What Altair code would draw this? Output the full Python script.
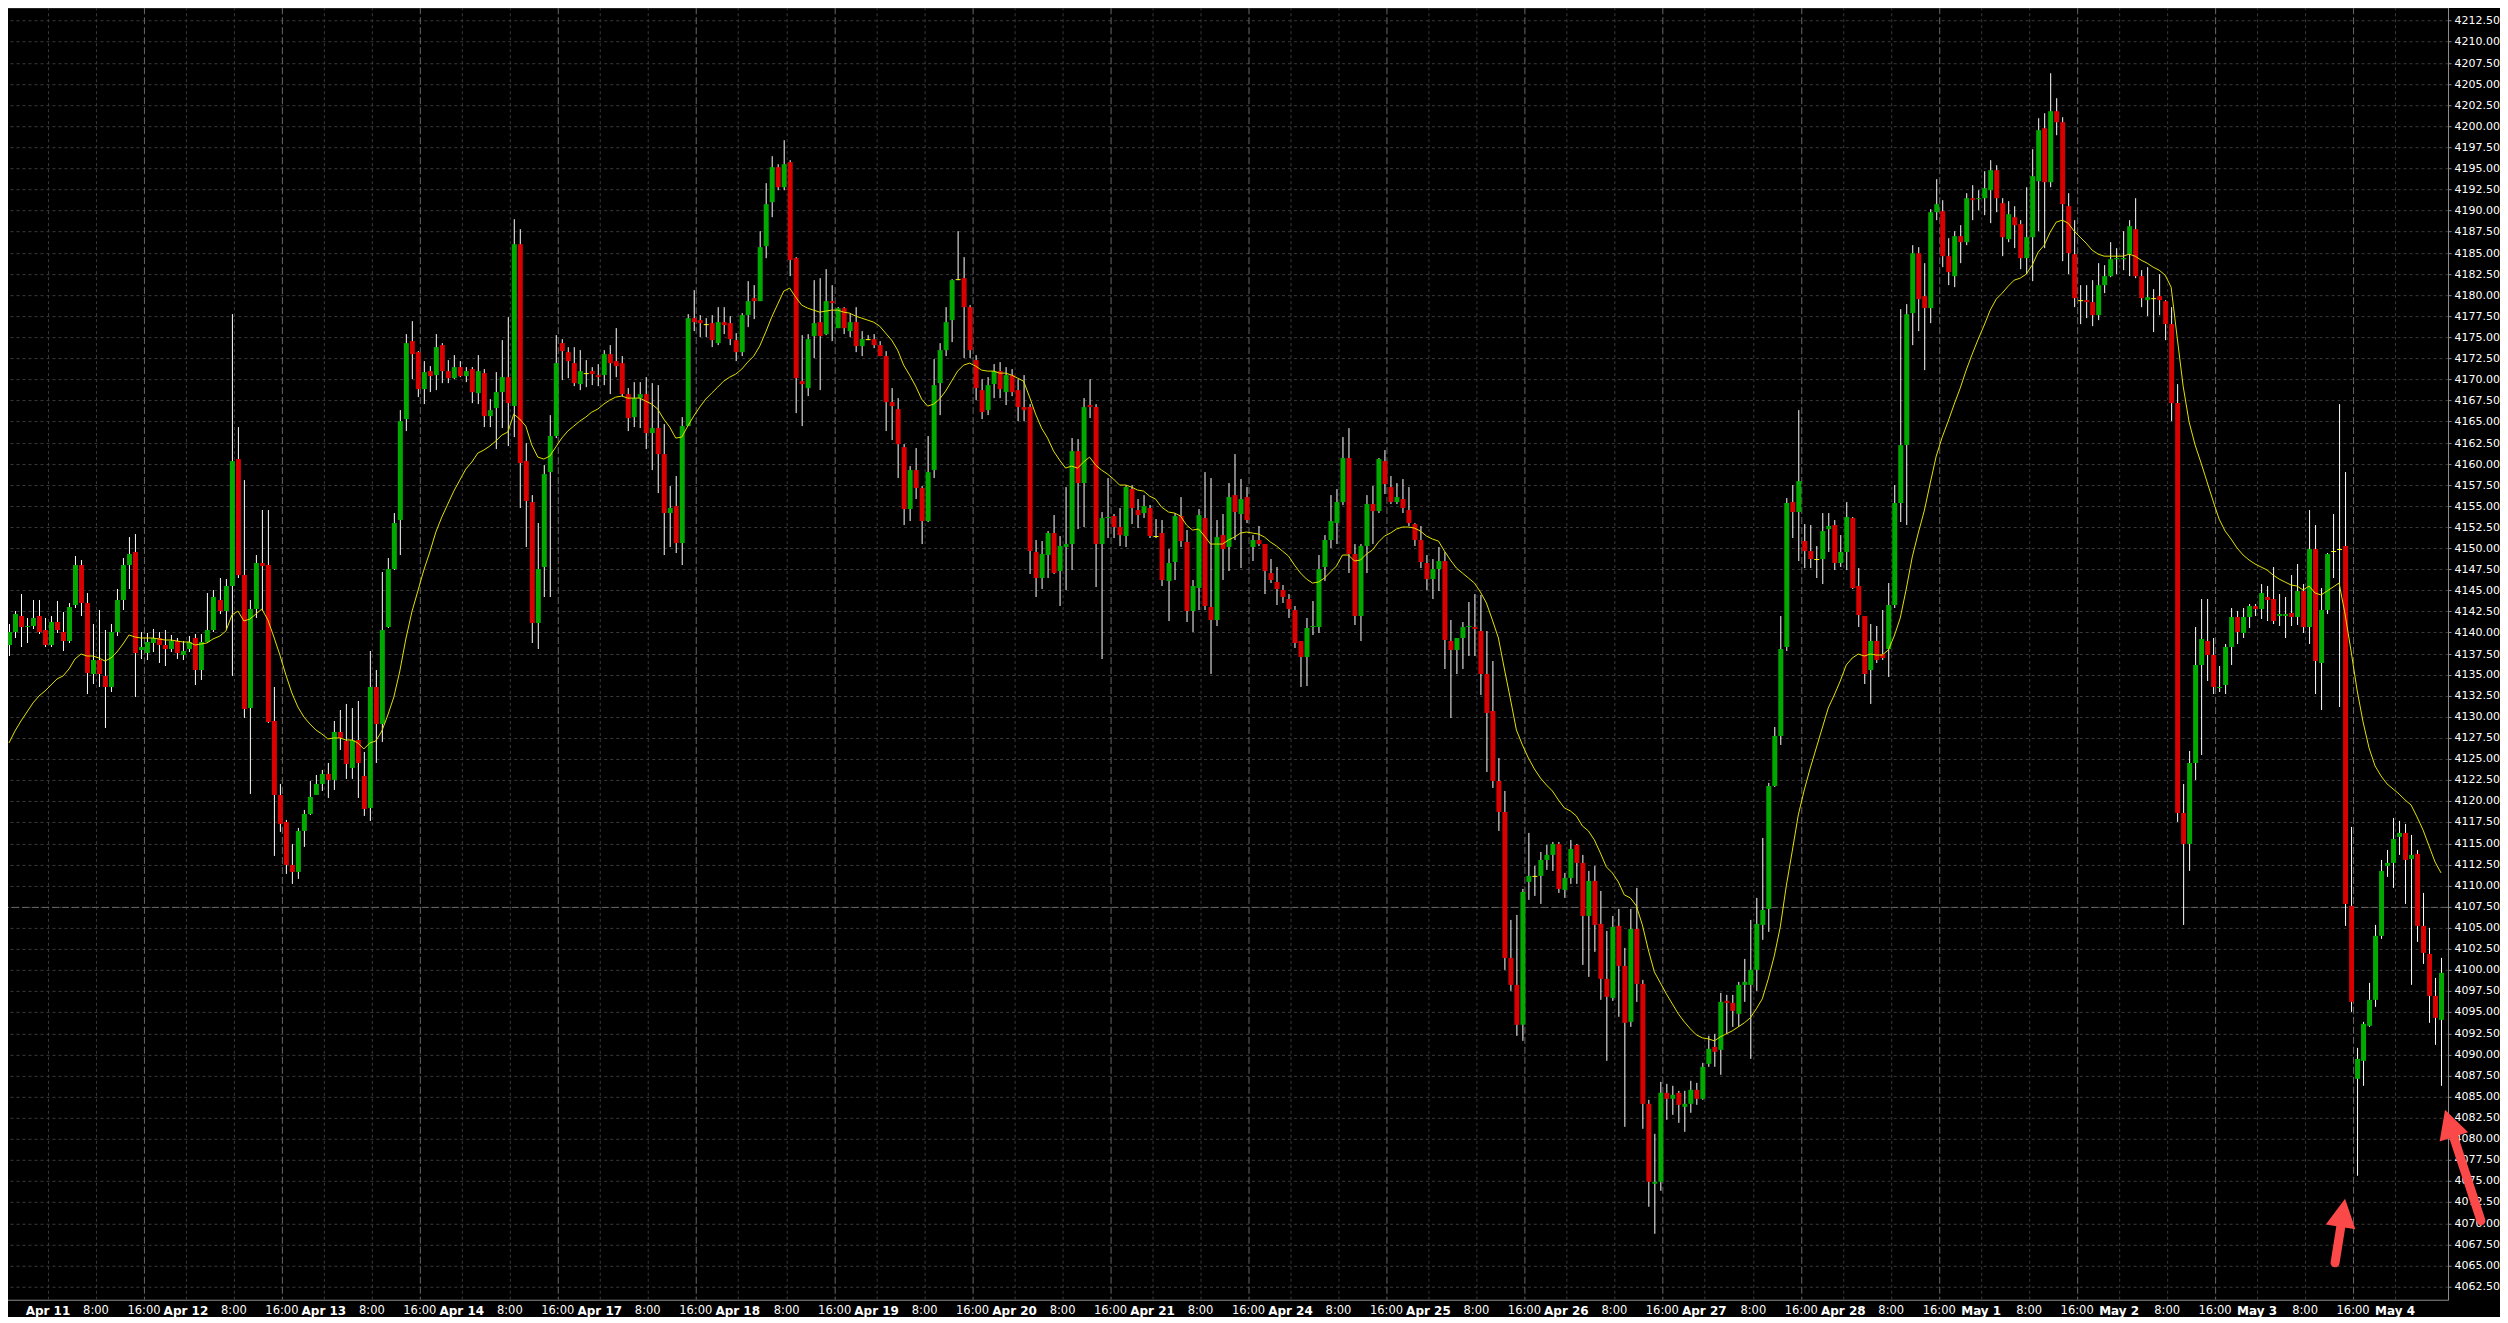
import math
import altair as alt
import pandas as pd

# ---------------- data (hourly candles) ----------------
opens = [
    4138.5, 4140.1, 4141.9, 4140.7, 4140.8, 4141.9, 4140.3, 4138.5, 4141.3, 4140.1,
    4139.0, 4143.3, 4148.0, 4143.5, 4135.1, 4136.8, 4134.8, 4133.6, 4140.1, 4143.9,
    4148.0, 4149.5, 4137.9, 4137.6, 4138.8, 4139.4, 4138.5, 4138.1, 4139.0, 4137.3,
    4138.1, 4139.4, 4135.6, 4138.9, 4140.3, 4143.9, 4142.6, 4145.5, 4160.6, 4146.8,
    4131.1, 4142.8, 4148.2, 4148.0, 4129.5, 4120.8, 4117.5, 4112.5, 4111.6, 4116.5,
    4118.5, 4120.8, 4122.1, 4123.3, 4122.5, 4128.2, 4127.1, 4124.0, 4127.3, 4123.0,
    4119.2, 4133.5, 4129.2, 4140.6, 4147.5, 4153.3, 4165.3, 4174.5, 4173.2, 4168.8,
    4171.0, 4170.5, 4174.0, 4171.0, 4170.1, 4171.5, 4170.4, 4171.2, 4168.4, 4170.7,
    4165.6, 4166.6, 4168.5, 4170.2, 4166.8, 4186.0, 4160.3, 4155.4, 4141.1, 4147.8,
    4159.0, 4163.3, 4174.3, 4173.2, 4171.9, 4169.4, 4170.7, 4171.0, 4170.5, 4170.5,
    4173.0, 4172.1, 4171.9, 4168.3, 4165.5, 4167.8, 4168.3, 4163.6, 4164.2, 4161.1,
    4154.1, 4155.0, 4150.6, 4164.5, 4177.3, 4177.0, 4176.5, 4176.6, 4174.3, 4176.8,
    4176.6, 4174.6, 4173.2, 4177.6, 4179.6, 4179.3, 4185.8, 4191.0, 4195.1, 4192.8,
    4195.7, 4184.3, 4169.8, 4169.0, 4175.1, 4176.8, 4175.3, 4179.3, 4176.1, 4178.4,
    4175.7, 4176.8, 4173.9, 4174.7, 4174.8, 4174.1, 4172.8, 4167.3, 4166.5, 4162.0,
    4154.6, 4159.3, 4157.1, 4153.2, 4159.3, 4169.6, 4173.5, 4177.0, 4181.9, 4182.0,
    4178.6, 4172.3, 4168.7, 4166.3, 4169.4, 4171.0, 4168.5, 4170.5, 4168.7, 4166.7,
    4166.7, 4149.5, 4146.5, 4149.2, 4151.8, 4147.3, 4150.1, 4150.5, 4161.5, 4157.7,
    4167.0, 4166.7, 4150.5, 4153.6, 4153.8, 4152.5, 4151.4, 4157.0, 4154.5, 4154.1,
    4154.8, 4151.4, 4151.8, 4146.1, 4148.3, 4153.8, 4150.7, 4142.6, 4145.3, 4153.6,
    4143.0, 4141.5, 4151.5, 4150.1, 4156.3, 4154.0, 4156.1, 4150.1, 4150.9, 4150.5,
    4147.1, 4146.0, 4145.0, 4144.0, 4142.7, 4139.0, 4137.1, 4140.6, 4140.6, 4147.8,
    4151.0, 4153.0, 4155.5, 4160.7, 4149.3, 4142.0, 4150.2, 4155.2, 4154.4, 4160.3,
    4157.2, 4155.5, 4155.8, 4154.5, 4152.8, 4150.9, 4148.2, 4146.3, 4147.5, 4148.5,
    4139.0, 4137.9, 4139.3, 4140.6, 4140.6, 4140.2, 4135.1, 4130.7, 4122.4, 4118.8,
    4101.5, 4098.3, 4093.5, 4110.4, 4111.2, 4111.2, 4113.1, 4113.6, 4115.0, 4109.5,
    4110.9, 4114.8, 4112.7, 4106.4, 4110.6, 4105.5, 4099.0, 4096.7, 4105.3, 4100.5,
    4093.9, 4104.9, 4098.4, 4084.2, 4074.7, 4074.9, 4085.5, 4084.8, 4085.5, 4083.8,
    4084.2, 4085.8, 4084.8, 4088.9, 4090.9, 4090.6, 4096.4, 4096.1, 4094.8, 4098.3,
    4098.3, 4100.0, 4105.4, 4107.2, 4121.8, 4127.7, 4138.3, 4155.4, 4154.3, 4150.8,
    4149.7, 4148.7, 4148.7, 4152.3, 4152.7, 4148.2, 4149.5, 4153.6, 4145.5, 4141.9,
    4135.6, 4139.0, 4137.4, 4138.1, 4143.2, 4155.3, 4162.2, 4177.8, 4185.0, 4179.8,
    4178.4, 4189.8, 4189.9, 4184.6, 4182.2, 4187.0, 4186.2, 4191.5, 4191.4, 4191.5,
    4192.4, 4194.8, 4190.9, 4186.6, 4189.2, 4188.4, 4184.3, 4186.8, 4193.5, 4199.8,
    4193.3, 4201.8, 4200.5, 4190.5, 4184.8, 4179.4, 4179.4, 4179.1, 4177.6, 4181.1,
    4182.2, 4184.2, 4184.2, 4184.8, 4187.8, 4182.2, 4179.4, 4179.6, 4179.8, 4179.2,
    4176.5, 4167.2, 4118.6, 4114.9, 4124.5, 4136.2, 4139.0, 4137.3, 4133.4, 4133.8,
    4138.3, 4141.8, 4139.9, 4141.8, 4143.1, 4142.8, 4144.2, 4144.0, 4141.9, 4141.9,
    4142.3, 4141.8, 4144.9, 4140.6, 4149.9, 4136.4, 4142.7, 4149.6, 4149.9, 4150.2,
    4107.6, 4087.1, 4089.3, 4093.4, 4096.5, 4104.0, 4112.3, 4112.7, 4115.8, 4116.3,
    4113.2, 4113.8, 4105.2, 4101.9, 4096.9, 4094.1,
]
highs = [
    4141.0, 4142.6, 4144.6, 4141.7, 4143.9, 4143.9, 4141.7, 4141.9, 4143.7, 4142.4,
    4143.5, 4149.1, 4148.6, 4144.7, 4141.0, 4142.7, 4140.3, 4141.0, 4145.2, 4148.8,
    4151.3, 4151.7, 4140.1, 4139.9, 4140.4, 4140.1, 4140.3, 4139.7, 4139.4, 4139.0,
    4139.6, 4139.8, 4139.8, 4144.7, 4145.0, 4146.4, 4146.3, 4177.7, 4164.3, 4158.1,
    4143.9, 4149.2, 4154.5, 4154.5, 4133.5, 4122.1, 4117.8, 4115.0, 4116.8, 4119.0,
    4122.4, 4123.1, 4123.7, 4124.6, 4129.5, 4130.8, 4131.5, 4131.1, 4131.9, 4125.8,
    4137.8, 4135.6, 4147.2, 4148.8, 4154.1, 4166.3, 4175.3, 4176.9, 4173.3, 4172.1,
    4171.6, 4175.3, 4174.3, 4172.3, 4172.9, 4172.2, 4171.5, 4171.5, 4172.9, 4171.2,
    4167.7, 4170.8, 4174.6, 4177.4, 4189.0, 4187.8, 4162.5, 4156.3, 4153.0, 4159.8,
    4165.8, 4175.2, 4174.8, 4173.8, 4173.8, 4173.4, 4172.3, 4171.5, 4171.8, 4173.5,
    4174.0, 4176.1, 4172.8, 4168.9, 4169.7, 4169.7, 4170.2, 4169.5, 4169.3, 4164.7,
    4157.3, 4158.5, 4165.5, 4177.7, 4180.6, 4177.6, 4177.3, 4177.6, 4178.5, 4178.5,
    4177.5, 4175.5, 4177.8, 4181.6, 4181.2, 4187.6, 4193.2, 4196.4, 4195.5, 4198.3,
    4196.0, 4184.5, 4175.2, 4175.3, 4181.8, 4182.0, 4183.0, 4181.2, 4178.6, 4178.6,
    4177.8, 4178.6, 4175.7, 4175.2, 4175.3, 4174.5, 4173.3, 4168.9, 4167.8, 4162.3,
    4159.7, 4161.8, 4157.4, 4163.3, 4172.4, 4174.3, 4178.6, 4181.9, 4187.6, 4184.5,
    4178.8, 4172.9, 4170.0, 4170.2, 4171.8, 4172.0, 4171.5, 4171.2, 4170.0, 4170.5,
    4167.1, 4151.0, 4150.8, 4152.0, 4153.9, 4151.4, 4157.2, 4163.0, 4162.9, 4167.8,
    4170.0, 4167.1, 4154.3, 4158.3, 4154.0, 4154.8, 4157.5, 4157.5, 4155.8, 4156.3,
    4155.1, 4153.5, 4153.3, 4149.9, 4154.2, 4156.1, 4152.1, 4146.2, 4154.6, 4159.0,
    4158.3, 4153.3, 4154.0, 4157.7, 4161.1, 4158.2, 4157.2, 4151.5, 4152.6, 4150.5,
    4148.7, 4147.8, 4145.6, 4144.6, 4143.1, 4139.0, 4141.7, 4143.7, 4149.2, 4151.6,
    4156.3, 4157.0, 4163.2, 4164.2, 4150.5, 4150.5, 4156.3, 4157.3, 4160.7, 4161.6,
    4158.5, 4157.7, 4158.2, 4157.2, 4153.0, 4152.6, 4149.2, 4148.7, 4150.1, 4149.5,
    4141.5, 4139.4, 4141.3, 4143.6, 4144.6, 4144.4, 4140.2, 4136.6, 4125.1, 4121.2,
    4106.0, 4106.5, 4109.6, 4116.3, 4112.3, 4114.0, 4114.8, 4115.2, 4115.2, 4111.5,
    4115.4, 4115.0, 4113.6, 4111.7, 4112.3, 4109.4, 4104.7, 4106.4, 4107.2, 4102.6,
    4107.2, 4109.8, 4098.8, 4084.6, 4080.6, 4086.8, 4086.5, 4086.3, 4085.7, 4085.7,
    4086.9, 4086.7, 4089.0, 4092.2, 4092.4, 4097.3, 4097.1, 4097.1, 4098.6, 4101.3,
    4106.0, 4108.5, 4115.7, 4122.2, 4128.8, 4141.9, 4155.9, 4157.5, 4166.4, 4152.9,
    4152.7, 4150.2, 4154.2, 4154.2, 4153.3, 4151.6, 4155.4, 4153.7, 4147.6, 4142.0,
    4141.0, 4140.8, 4142.7, 4145.9, 4157.5, 4178.3, 4178.9, 4185.9, 4185.7, 4183.8,
    4190.1, 4193.7, 4191.2, 4186.7, 4187.6, 4188.2, 4192.0, 4193.0, 4192.4, 4194.7,
    4195.9, 4195.4, 4191.4, 4191.1, 4190.5, 4188.8, 4192.8, 4197.2, 4200.9, 4201.5,
    4206.3, 4203.3, 4201.1, 4192.0, 4188.8, 4181.1, 4181.1, 4181.7, 4183.7, 4183.5,
    4186.3, 4185.5, 4187.6, 4188.9, 4191.5, 4182.9, 4183.3, 4180.7, 4182.4, 4179.4,
    4178.5, 4169.4, 4122.1, 4126.0, 4140.7, 4144.0, 4144.0, 4139.4, 4136.0, 4138.6,
    4142.9, 4142.5, 4142.9, 4143.4, 4143.4, 4145.7, 4145.5, 4147.7, 4144.6, 4144.2,
    4146.8, 4148.1, 4145.7, 4154.5, 4152.7, 4145.3, 4149.4, 4154.0, 4167.1, 4159.0,
    4117.0, 4090.8, 4093.9, 4098.5, 4105.4, 4113.0, 4114.3, 4118.0, 4117.7, 4117.3,
    4116.0, 4114.3, 4109.2, 4105.0, 4099.1, 4101.4,
]
lows = [
    4137.2, 4139.4, 4138.3, 4138.8, 4140.4, 4139.8, 4138.3, 4138.3, 4139.9, 4137.8,
    4138.8, 4142.9, 4141.9, 4132.7, 4133.9, 4133.5, 4128.7, 4133.0, 4139.6, 4142.7,
    4145.2, 4132.4, 4136.9, 4136.7, 4137.7, 4136.4, 4136.0, 4137.7, 4136.9, 4136.7,
    4137.7, 4133.8, 4134.4, 4138.8, 4140.0, 4142.2, 4140.4, 4134.9, 4146.4, 4129.9,
    4120.9, 4141.7, 4142.5, 4129.3, 4113.5, 4116.4, 4111.4, 4110.2, 4110.8, 4114.6,
    4118.4, 4120.7, 4121.2, 4120.4, 4121.4, 4126.1, 4122.7, 4122.7, 4120.4, 4118.3,
    4117.7, 4124.5, 4127.0, 4140.5, 4147.4, 4149.2, 4163.9, 4170.0, 4167.9, 4167.1,
    4168.5, 4168.7, 4169.5, 4169.5, 4170.0, 4170.3, 4169.7, 4167.2, 4167.1, 4164.3,
    4164.3, 4161.7, 4164.2, 4162.1, 4163.2, 4154.7, 4150.1, 4138.7, 4138.0, 4144.2,
    4144.2, 4163.0, 4169.9, 4170.1, 4169.2, 4168.7, 4169.1, 4169.3, 4169.2, 4169.3,
    4168.3, 4170.2, 4168.0, 4163.9, 4164.3, 4164.2, 4161.7, 4159.2, 4156.5, 4149.2,
    4150.1, 4149.4, 4148.0, 4164.4, 4175.7, 4175.0, 4175.0, 4173.8, 4174.0, 4175.3,
    4174.0, 4172.1, 4172.7, 4176.2, 4177.1, 4179.2, 4184.4, 4189.2, 4192.4, 4192.4,
    4182.2, 4166.0, 4164.5, 4168.0, 4172.5, 4168.7, 4175.2, 4174.5, 4176.1, 4175.4,
    4175.0, 4173.2, 4172.7, 4174.6, 4173.7, 4172.7, 4163.9, 4162.8, 4158.3, 4152.7,
    4153.2, 4155.8, 4150.5, 4153.1, 4158.3, 4165.7, 4172.7, 4174.4, 4181.8, 4172.5,
    4172.5, 4167.5, 4165.3, 4165.7, 4167.8, 4167.8, 4167.0, 4168.0, 4165.0, 4165.0,
    4146.9, 4144.2, 4145.1, 4146.5, 4146.9, 4143.1, 4145.0, 4147.4, 4152.2, 4152.5,
    4165.4, 4145.4, 4136.9, 4151.2, 4151.2, 4150.2, 4150.1, 4152.8, 4152.4, 4153.6,
    4151.2, 4151.2, 4145.5, 4141.4, 4146.2, 4150.1, 4141.3, 4140.0, 4142.7, 4142.7,
    4135.1, 4140.8, 4146.2, 4147.3, 4151.0, 4147.6, 4153.0, 4148.5, 4150.2, 4144.6,
    4145.9, 4143.3, 4143.5, 4141.7, 4138.2, 4133.6, 4133.7, 4139.7, 4139.9, 4146.1,
    4150.0, 4150.5, 4155.1, 4147.1, 4140.9, 4139.0, 4147.1, 4150.5, 4154.2, 4156.4,
    4155.2, 4155.2, 4154.2, 4152.6, 4150.2, 4147.6, 4145.0, 4144.0, 4144.9, 4135.7,
    4129.9, 4135.1, 4135.7, 4137.2, 4137.2, 4132.6, 4123.5, 4121.6, 4116.5, 4100.0,
    4097.5, 4092.2, 4091.6, 4108.3, 4108.8, 4107.9, 4111.9, 4111.7, 4109.1, 4108.5,
    4110.2, 4110.2, 4100.6, 4099.2, 4102.2, 4096.5, 4089.3, 4096.4, 4094.5, 4081.4,
    4093.3, 4096.2, 4081.2, 4072.0, 4068.8, 4073.8, 4082.3, 4082.9, 4081.9, 4080.8,
    4083.1, 4084.0, 4084.6, 4088.6, 4088.6, 4087.6, 4092.4, 4093.3, 4093.3, 4096.2,
    4089.5, 4097.5, 4103.6, 4104.5, 4121.7, 4126.7, 4137.8, 4151.2, 4148.5, 4147.6,
    4147.6, 4146.5, 4145.7, 4149.5, 4147.4, 4147.8, 4147.4, 4145.2, 4140.6, 4133.9,
    4131.5, 4136.4, 4136.7, 4134.7, 4142.9, 4153.1, 4152.7, 4174.0, 4175.7, 4171.1,
    4176.6, 4188.8, 4183.3, 4181.2, 4180.9, 4183.7, 4185.9, 4188.9, 4190.0, 4189.4,
    4188.5, 4189.8, 4184.6, 4186.2, 4185.5, 4183.0, 4182.4, 4181.6, 4187.6, 4185.5,
    4192.8, 4198.9, 4184.0, 4182.4, 4178.5, 4176.5, 4177.2, 4176.3, 4177.0, 4180.2,
    4182.1, 4182.4, 4182.9, 4182.2, 4182.0, 4178.5, 4177.5, 4175.6, 4177.6, 4174.6,
    4165.1, 4117.6, 4105.4, 4111.7, 4122.5, 4125.5, 4134.2, 4132.7, 4132.9, 4132.7,
    4136.2, 4138.6, 4139.4, 4140.5, 4141.9, 4141.6, 4141.4, 4141.0, 4140.8, 4139.3,
    4140.8, 4140.9, 4139.9, 4138.6, 4132.7, 4130.8, 4142.2, 4146.4, 4131.2, 4105.2,
    4095.0, 4075.6, 4086.3, 4093.3, 4095.6, 4103.7, 4111.1, 4109.7, 4113.6, 4107.9,
    4098.2, 4103.4, 4100.8, 4093.7, 4091.1, 4086.3,
]
closes = [
    4140.1, 4142.2, 4140.6, 4140.8, 4141.7, 4140.1, 4138.5, 4141.3, 4140.3, 4139.0,
    4143.0, 4148.0, 4143.5, 4135.2, 4136.8, 4135.1, 4133.6, 4140.1, 4143.9, 4148.0,
    4149.3, 4137.6, 4138.3, 4138.9, 4139.3, 4138.5, 4138.1, 4139.0, 4137.6, 4137.8,
    4138.9, 4135.6, 4138.9, 4140.3, 4144.2, 4142.6, 4145.5, 4160.3, 4146.8, 4130.9,
    4142.8, 4148.2, 4148.0, 4129.4, 4120.8, 4117.3, 4112.5, 4111.6, 4116.5, 4118.5,
    4120.5, 4122.1, 4123.3, 4122.5, 4128.2, 4127.5, 4124.4, 4127.3, 4124.6, 4119.1,
    4133.5, 4129.2, 4140.3, 4147.5, 4153.0, 4165.0, 4174.3, 4173.0, 4168.8, 4170.8,
    4170.4, 4173.8, 4171.0, 4170.1, 4171.4, 4170.4, 4171.0, 4168.5, 4171.0, 4165.6,
    4166.3, 4168.5, 4170.2, 4167.2, 4186.0, 4160.1, 4155.6, 4141.1, 4147.5, 4158.8,
    4163.3, 4171.9, 4173.3, 4172.1, 4169.6, 4171.0, 4170.7, 4170.6, 4170.2, 4173.0,
    4171.9, 4171.6, 4168.3, 4165.4, 4167.8, 4168.3, 4163.6, 4164.2, 4161.1, 4154.1,
    4154.7, 4150.6, 4164.5, 4177.3, 4176.8, 4176.6, 4176.5, 4174.6, 4176.8, 4176.4,
    4174.8, 4173.2, 4177.6, 4179.3, 4179.3, 4185.6, 4190.8, 4195.1, 4192.8, 4195.5,
    4184.1, 4170.1, 4169.4, 4174.8, 4176.6, 4175.1, 4179.2, 4179.0, 4178.4, 4176.1,
    4176.8, 4173.9, 4174.8, 4174.7, 4174.1, 4172.8, 4167.3, 4166.8, 4162.3, 4154.6,
    4159.3, 4157.1, 4153.2, 4159.0, 4169.3, 4173.5, 4176.8, 4181.8, 4181.9, 4178.6,
    4173.5, 4169.0, 4166.1, 4169.3, 4171.0, 4168.8, 4170.5, 4168.5, 4166.7, 4166.5,
    4149.6, 4146.5, 4149.3, 4151.8, 4147.1, 4150.2, 4150.5, 4161.5, 4157.7, 4166.7,
    4166.7, 4150.5, 4153.6, 4153.7, 4152.5, 4151.6, 4157.2, 4154.8, 4153.9, 4155.0,
    4151.4, 4151.4, 4146.2, 4148.2, 4153.8, 4150.8, 4142.6, 4145.5, 4153.9, 4143.1,
    4141.5, 4151.3, 4149.9, 4156.1, 4154.3, 4155.8, 4153.3, 4150.9, 4150.5, 4147.3,
    4146.2, 4145.1, 4144.2, 4142.8, 4138.8, 4137.1, 4140.5, 4140.8, 4147.5, 4150.9,
    4153.2, 4155.4, 4160.7, 4149.3, 4142.0, 4150.2, 4155.2, 4154.4, 4160.5, 4157.6,
    4155.5, 4156.1, 4154.8, 4153.0, 4151.0, 4148.3, 4146.3, 4147.5, 4148.5, 4139.1,
    4137.9, 4139.3, 4140.6, 4140.8, 4140.4, 4135.1, 4130.5, 4122.4, 4118.8, 4101.5,
    4098.3, 4093.5, 4109.3, 4111.2, 4111.2, 4113.0, 4113.6, 4115.0, 4109.6, 4110.9,
    4114.4, 4112.7, 4106.4, 4110.6, 4105.4, 4099.0, 4096.8, 4105.1, 4100.5, 4093.7,
    4104.9, 4098.4, 4084.2, 4074.9, 4074.9, 4085.5, 4084.8, 4085.2, 4084.0, 4084.2,
    4085.8, 4084.8, 4088.6, 4090.7, 4090.3, 4096.2, 4096.2, 4095.2, 4098.3, 4098.6,
    4100.0, 4105.5, 4107.1, 4121.8, 4127.7, 4138.1, 4155.3, 4154.3, 4158.0, 4149.7,
    4148.7, 4148.7, 4152.0, 4152.6, 4148.2, 4149.5, 4153.7, 4145.3, 4142.1, 4135.1,
    4139.0, 4136.8, 4137.0, 4143.2, 4155.3, 4162.2, 4177.7, 4185.0, 4179.5, 4178.4,
    4189.8, 4190.8, 4184.6, 4182.7, 4187.0, 4186.2, 4191.5, 4191.3, 4191.5, 4192.6,
    4194.8, 4191.4, 4186.8, 4189.6, 4188.3, 4184.3, 4186.8, 4194.1, 4199.5, 4193.3,
    4201.8, 4200.4, 4190.7, 4184.9, 4179.6, 4179.4, 4179.1, 4177.6, 4181.1, 4182.2,
    4184.2, 4184.3, 4184.4, 4188.1, 4182.2, 4179.6, 4179.7, 4179.6, 4179.4, 4176.5,
    4167.2, 4118.6, 4114.9, 4124.5, 4136.2, 4139.2, 4137.3, 4133.5, 4133.6, 4138.3,
    4141.8, 4140.0, 4141.8, 4143.1, 4142.8, 4144.7, 4143.8, 4141.4, 4142.2, 4142.2,
    4141.8, 4144.9, 4140.6, 4149.9, 4136.6, 4142.7, 4149.3, 4149.6, 4149.9, 4107.8,
    4096.3, 4089.5, 4093.6, 4096.5, 4104.0, 4111.8, 4112.7, 4115.6, 4116.2, 4113.0,
    4113.7, 4105.2, 4102.1, 4096.9, 4094.3, 4099.7,
]

ema_seed = 4126.9          # value of the yellow average at the first visible bar
ema_period = 20

day_labels = ["Apr 11", "Apr 12", "Apr 13", "Apr 14", "Apr 17", "Apr 18", "Apr 19",
              "Apr 20", "Apr 21", "Apr 24", "Apr 25", "Apr 26", "Apr 27", "Apr 28",
              "May 1", "May 2", "May 3", "May 4"]
hour_labels = ["8:00", "16:00"]
price_ticks = [round(4062.5 + 2.5 * k, 2) for k in range(61)]
marked_level = 4107.5

arrow_tail_bar = [387.3, 411.7]
arrow_tail_price = [4065.3, 4070.3]
arrow_tip_bar = [389.0, 405.7]
arrow_tip_price = [4072.9, 4083.4]

# ---------------- layout / style ----------------
W, H = 2448, 1293
X_DOMAIN = [-0.547, 405.36]
Y_DOMAIN = [4060.95, 4214.075]
FONT = "DejaVu Sans"
GREEN, RED, DOJI = "#00a800", "#d80000", "#ffff00"
MA_COLOR, WICK = "#e2e200", "#ffffff"
GRID, SESSION, FRAME = "#3a3a3a", "#686868", "#8c8c8c"
ARROW = "#fb4848"

alpha = 2.0 / (ema_period + 1)
ema = [ema_seed]
for c in closes[1:]:
    ema.append(ema[-1] + alpha * (c - ema[-1]))

n = len(closes)
df = pd.DataFrame({"i": list(range(n)), "open": opens, "high": highs, "low": lows,
                   "close": closes, "ema": ema})
df["dir"] = ["up" if c > o else ("down" if c < o else "flat") for o, c in zip(opens, closes)]

# time ticks: 23 hourly bars per session day, midnight bar position of the first day
midnight0, per_day = 6.4, 23
tick_rows = [{"pos": midnight0 - 7, "label": "", "kind": "session"}]
for d, lab in enumerate(day_labels):
    m = midnight0 + per_day * d
    tick_rows.append({"pos": m, "label": lab, "kind": "day"})
    if d < len(day_labels) - 1:
        tick_rows.append({"pos": m + 8, "label": hour_labels[0], "kind": "hour"})
        tick_rows.append({"pos": m + 16, "label": hour_labels[1], "kind": "session"})
ticks = pd.DataFrame(tick_rows)

px_bar = W / (X_DOMAIN[1] - X_DOMAIN[0])
px_pt = H / (Y_DOMAIN[1] - Y_DOMAIN[0])
arrow_rows = []
for tb, tp, hb, hp in zip(arrow_tail_bar, arrow_tail_price, arrow_tip_bar, arrow_tip_price):
    dx = (hb - tb) * px_bar
    dy = -(hp - tp) * px_pt
    length = math.hypot(dx, dy)
    back = 20.0 / length
    arrow_rows.append({"tb": tb, "tp": tp, "hb": hb, "hp": hp,
                       "nb": hb - (hb - tb) * back, "np": hp - (hp - tp) * back,
                       "angle": math.degrees(math.atan2(dx, -dy)) % 360})
arrows = pd.DataFrame(arrow_rows)

xs = alt.Scale(domain=X_DOMAIN, nice=False, zero=False, round=True)
ys = alt.Scale(domain=Y_DOMAIN, nice=False, zero=False, round=True)
y_axis = alt.Axis(orient="right", values=price_ticks, format=".2f", title=None,
                  labelFont=FONT, labelFontSize=11, labelColor="#ffffff",
                  labelPadding=3, tickSize=3, tickColor=FRAME, domainColor=FRAME,
                  grid=True, gridColor=GRID, gridDash=[3, 3], labelOverlap=False)


def X(field):
    return alt.X(field, scale=xs, axis=None)


def Y(field):
    return alt.Y(field, scale=ys, axis=y_axis)


base = alt.Chart(df)

grid_minor = alt.Chart(ticks[ticks["kind"] != "session"]).mark_rule(
    color=GRID, strokeWidth=1, strokeDash=[3, 3], xOffset=0.5).encode(x=X("pos:Q"))
grid_session = alt.Chart(ticks[ticks["kind"] == "session"]).mark_rule(
    color=SESSION, strokeWidth=1, strokeDash=[7, 3], xOffset=0.5).encode(x=X("pos:Q"))
level = alt.Chart(pd.DataFrame({"p": [marked_level]})).mark_rule(
    color=SESSION, strokeWidth=1, strokeDash=[7, 3], yOffset=0.5).encode(y=Y("p:Q"))

wicks = base.mark_rule(color=WICK, strokeWidth=1, xOffset=0.5).encode(
    x=X("i:Q"), y=Y("low:Q"), y2="high:Q")
bodies_up = base.transform_filter("datum.dir == 'up'").mark_bar(
    width=5, xOffset=0.5, color=GREEN).encode(x=X("i:Q"), y=Y("open:Q"), y2="close:Q")
bodies_dn = base.transform_filter("datum.dir == 'down'").mark_bar(
    width=5, xOffset=0.5, color=RED).encode(x=X("i:Q"), y=Y("open:Q"), y2="close:Q")
thin_up = base.transform_filter("datum.dir == 'up' && datum.close - datum.open < 0.2").mark_rule(
    color=GREEN, strokeWidth=1, xOffset=-2, x2Offset=3, yOffset=0.5).encode(
    x=X("i:Q"), x2="i:Q", y=Y("close:Q"))
thin_dn = base.transform_filter("datum.dir == 'down' && datum.open - datum.close < 0.2").mark_rule(
    color=RED, strokeWidth=1, xOffset=-2, x2Offset=3, yOffset=0.5).encode(
    x=X("i:Q"), x2="i:Q", y=Y("close:Q"))
dojis = base.transform_filter("datum.dir == 'flat'").mark_rule(
    color=DOJI, strokeWidth=1, xOffset=-2, x2Offset=3, yOffset=0.5).encode(
    x=X("i:Q"), x2="i:Q", y=Y("close:Q"))
ma = base.mark_line(color=MA_COLOR, strokeWidth=1).encode(x=X("i:Q"), y=Y("ema:Q"))

day_text = alt.Chart(ticks[ticks["kind"] == "day"]).mark_text(
    font=FONT, fontSize=12, fontWeight="bold", color="#ffffff", align="center",
    baseline="middle").encode(x=X("pos:Q"), y=alt.value(H + 11), text="label:N")
hour_text = alt.Chart(ticks[(ticks["kind"] != "day") & (ticks["label"] != "")]).mark_text(
    font=FONT, fontSize=11.5, color="#ffffff", align="center",
    baseline="middle").encode(x=X("pos:Q"), y=alt.value(H + 11), text="label:N")

shaft = alt.Chart(arrows).mark_rule(color=ARROW, strokeWidth=9, strokeCap="round").encode(
    x=X("tb:Q"), y=Y("tp:Q"), x2="nb:Q", y2="np:Q")
head = alt.Chart(arrows).mark_point(
    shape="M0,0L1,1.9L-1,1.9Z", size=900, filled=True, color=ARROW, opacity=1,
    strokeWidth=0).encode(x=X("hb:Q"), y=Y("hp:Q"), angle=alt.Angle("angle:Q", scale=None))

chart = alt.layer(
    grid_minor, grid_session, level, wicks, bodies_up, bodies_dn, thin_up, thin_dn,
    dojis, ma, day_text, hour_text, shaft, head
).properties(
    width=W, height=H, background="#000000",
    padding={"left": -8, "top": -2, "right": 0, "bottom": 0},
).configure_view(stroke=FRAME, strokeWidth=1)

chart.save("out.html", embed_options={"renderer": "svg", "actions": False})
